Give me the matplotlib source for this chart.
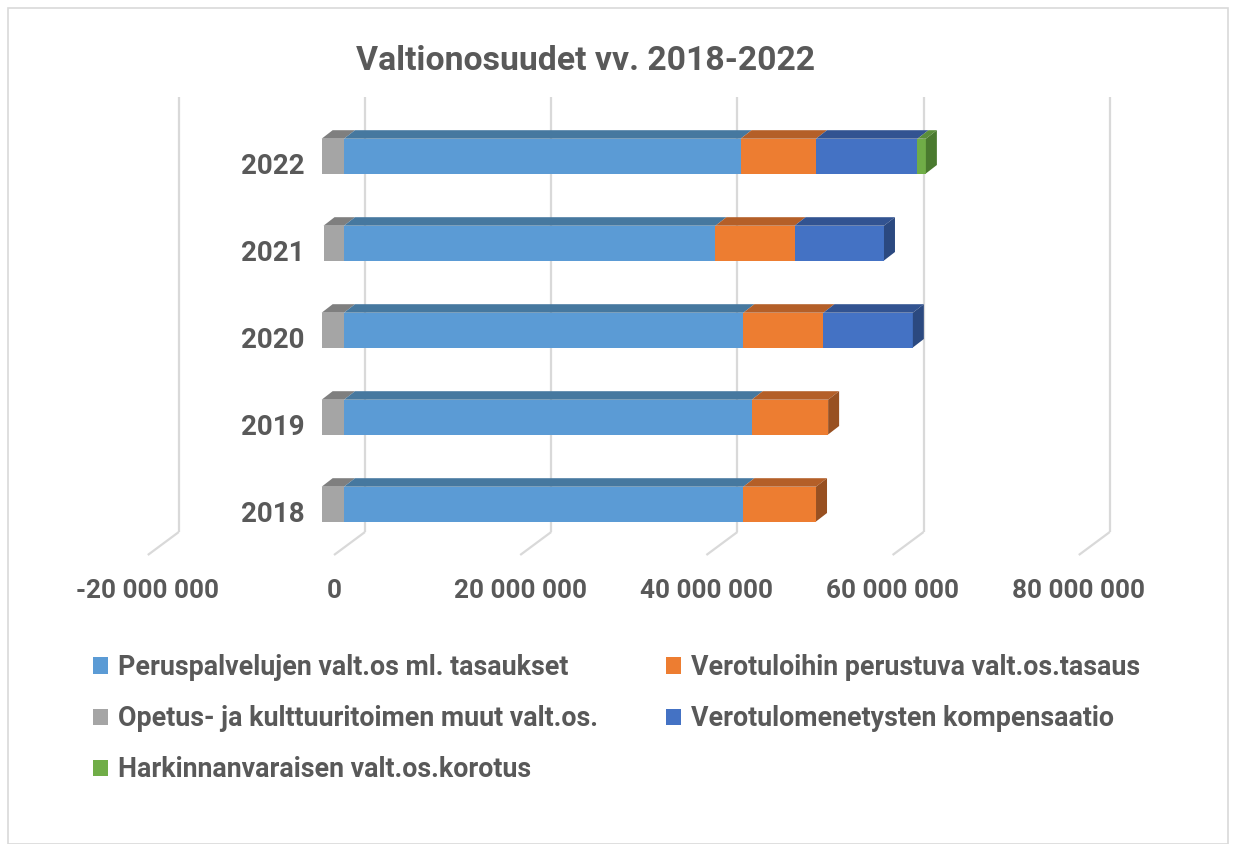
import matplotlib
matplotlib.use("Agg")
import matplotlib.pyplot as plt
import matplotlib.transforms as mtrans
from matplotlib.patches import Polygon, Patch, Rectangle
from matplotlib.ticker import FuncFormatter

# ---------------- data ----------------
years = ["2018", "2019", "2020", "2021", "2022"]
peruspalvelut = [42.9e6, 43.8e6, 42.9e6, 39.9e6, 42.6e6]
verotulotasaus = [7.8e6, 8.2e6, 8.6e6, 8.5e6, 8.1e6]
opetus_muut = [-2.4e6, -2.4e6, -2.4e6, -2.2e6, -2.4e6]
kompensaatio = [0, 0, 9.6e6, 9.6e6, 10.9e6]
harkinnanvarainen = [0, 0, 0, 0, 0.9e6]
x_ticks = [-20e6, 0, 20e6, 40e6, 60e6, 80e6]

labels = {
    "blue": "Peruspalvelujen valt.os ml. tasaukset",
    "orange": "Verotuloihin perustuva valt.os.tasaus",
    "gray": "Opetus- ja kulttuuritoimen muut valt.os.",
    "dblue": "Verotulomenetysten kompensaatio",
    "green": "Harkinnanvaraisen valt.os.korotus",
}
front_col = {"blue": "#5B9BD5", "orange": "#ED7D31", "gray": "#A5A5A5",
             "dblue": "#4472C4", "green": "#70AD47"}
top_col = {"blue": "#46789F", "orange": "#B45F28", "gray": "#7F7F7F",
           "dblue": "#325391", "green": "#5A8E3A"}
side_col = {"blue": "#3E6A91", "orange": "#985021", "gray": "#6E6E6E",
            "dblue": "#2B4980", "green": "#4A7A2F"}

plt.rcParams["font.family"] = ["Roboto", "DejaVu Sans"]
plt.rcParams["font.weight"] = "bold"
TXT = "#595959"
GRID = "#D9D9D9"

W, H = 1236, 844
fig = plt.figure(figsize=(W / 100, H / 100), dpi=100)

# axes = the plane of the bars' front faces (pixel geometry)
ax_left, ax_right, ax_top, ax_bottom = 157.8, 1088.8, 112.6, 547.6
ax = fig.add_axes([ax_left / W, (H - ax_bottom) / H,
                   (ax_right - ax_left) / W, (ax_bottom - ax_top) / H])
ax.set_xlim(x_ticks[0], x_ticks[-1])
ax.set_ylim(-0.5, len(years) - 0.5)
for s in ax.spines.values():
    s.set_visible(False)

ux = (x_ticks[-1] - x_ticks[0]) / (ax_right - ax_left)   # data per px (x)
uy = len(years) / (ax_bottom - ax_top)                    # data per px (y)

# 3D offsets in pixels
back = (21, 15.6)
front = (-10, -7.4)
depth = (11, 8.5)

# gridlines: vertical on back wall + diagonal on floor
y0, y1 = -0.5, len(years) - 0.5
for v in x_ticks:
    bx = v + back[0] * ux
    ax.plot([bx, bx], [y0 + back[1] * uy, y1 + back[1] * uy], color=GRID,
            lw=1.6, zorder=0, clip_on=False, solid_capstyle="butt")
    ax.plot([bx, v + front[0] * ux], [y0 + back[1] * uy, y0 + front[1] * uy],
            color=GRID, lw=1.6, zorder=0, clip_on=False, solid_capstyle="butt")

# bars
bh = 0.4
ypos = list(range(len(years)))
dx, dy = depth[0] * ux, depth[1] * uy


def draw_series(vals, lefts, key):
    ax.barh(ypos, vals, left=lefts, height=bh, color=front_col[key],
            zorder=3, edgecolor="none")
    for i, (v, l) in enumerate(zip(vals, lefts)):
        if v == 0:
            continue
        a, b = sorted([l, l + v])
        yt = i + bh / 2
        ax.add_patch(Polygon([(a, yt), (b, yt), (b + dx, yt + dy), (a + dx, yt + dy)],
                             closed=True, color=top_col[key], zorder=3, lw=0,
                             clip_on=False))


zeros = [0] * len(years)
draw_series(opetus_muut, zeros, "gray")
cum = zeros[:]
ends = {}
for vals, key in [(peruspalvelut, "blue"), (verotulotasaus, "orange"),
                  (kompensaatio, "dblue"), (harkinnanvarainen, "green")]:
    draw_series(vals, cum, key)
    for i, v in enumerate(vals):
        if v != 0:
            ends[i] = (cum[i] + v, key)
    cum = [c + v for c, v in zip(cum, vals)]

# right side faces of the stacks
for i, (r, key) in ends.items():
    yt, yb = i + bh / 2, i - bh / 2
    ax.add_patch(Polygon([(r, yb), (r, yt), (r + dx, yt + dy), (r + dx, yb + dy)],
                         closed=True, color=side_col[key], zorder=3, lw=0,
                         clip_on=False))

# y tick labels (years) on the front plane
ax.set_yticks(ypos, years)
ax.tick_params(axis="y", length=0, pad=0, labelsize=20, labelcolor=TXT)
yoff = mtrans.ScaledTranslation((305 - ax_left) / 100, front[1] / 100,
                                fig.dpi_scale_trans)
for lab in ax.get_yticklabels():
    lab.set_transform(lab.get_transform() + yoff)
    lab.set_fontweight("bold")

# x tick labels on the front floor edge
ax.set_xticks(x_ticks)
ax.xaxis.set_major_formatter(FuncFormatter(
    lambda v, p: f"{int(round(v)):,}".replace(",", " ")))
ax.tick_params(axis="x", length=0, pad=22.5, labelsize=18.8, labelcolor=TXT)
xoff = mtrans.ScaledTranslation(front[0] / 100, 0, fig.dpi_scale_trans)
for lab in ax.get_xticklabels():
    lab.set_transform(lab.get_transform() + xoff)
    lab.set_fontweight("bold")

# title
fig.text(586 / W, 1 - 61 / H, "Valtionosuudet vv. 2018-2022", ha="center",
         va="center", fontsize=24.3, fontweight="bold", color=TXT)

# legend in two columns
def handles(keys):
    return [Patch(facecolor=front_col[k], edgecolor="none", label=labels[k])
            for k in keys]

common = dict(loc="upper left", frameon=False, fontsize=19.3, labelcolor=TXT,
              handlelength=0.55, handleheight=0.55, handletextpad=0.38,
              labelspacing=0.9, borderpad=0, borderaxespad=0)
fig.legend(handles=handles(["blue", "gray", "green"]),
           bbox_to_anchor=(93 / W, 1 - 654 / H), **common)
fig.legend(handles=handles(["orange", "dblue"]),
           bbox_to_anchor=(666 / W, 1 - 654 / H), **common)

# chart border
fig.add_artist(Rectangle((8 / W, 0), (1228 - 8) / W, 1 - 8 / H,
                         transform=fig.transFigure, fill=False,
                         edgecolor=GRID, lw=1.2))

fig.savefig("out.png", dpi=100)
